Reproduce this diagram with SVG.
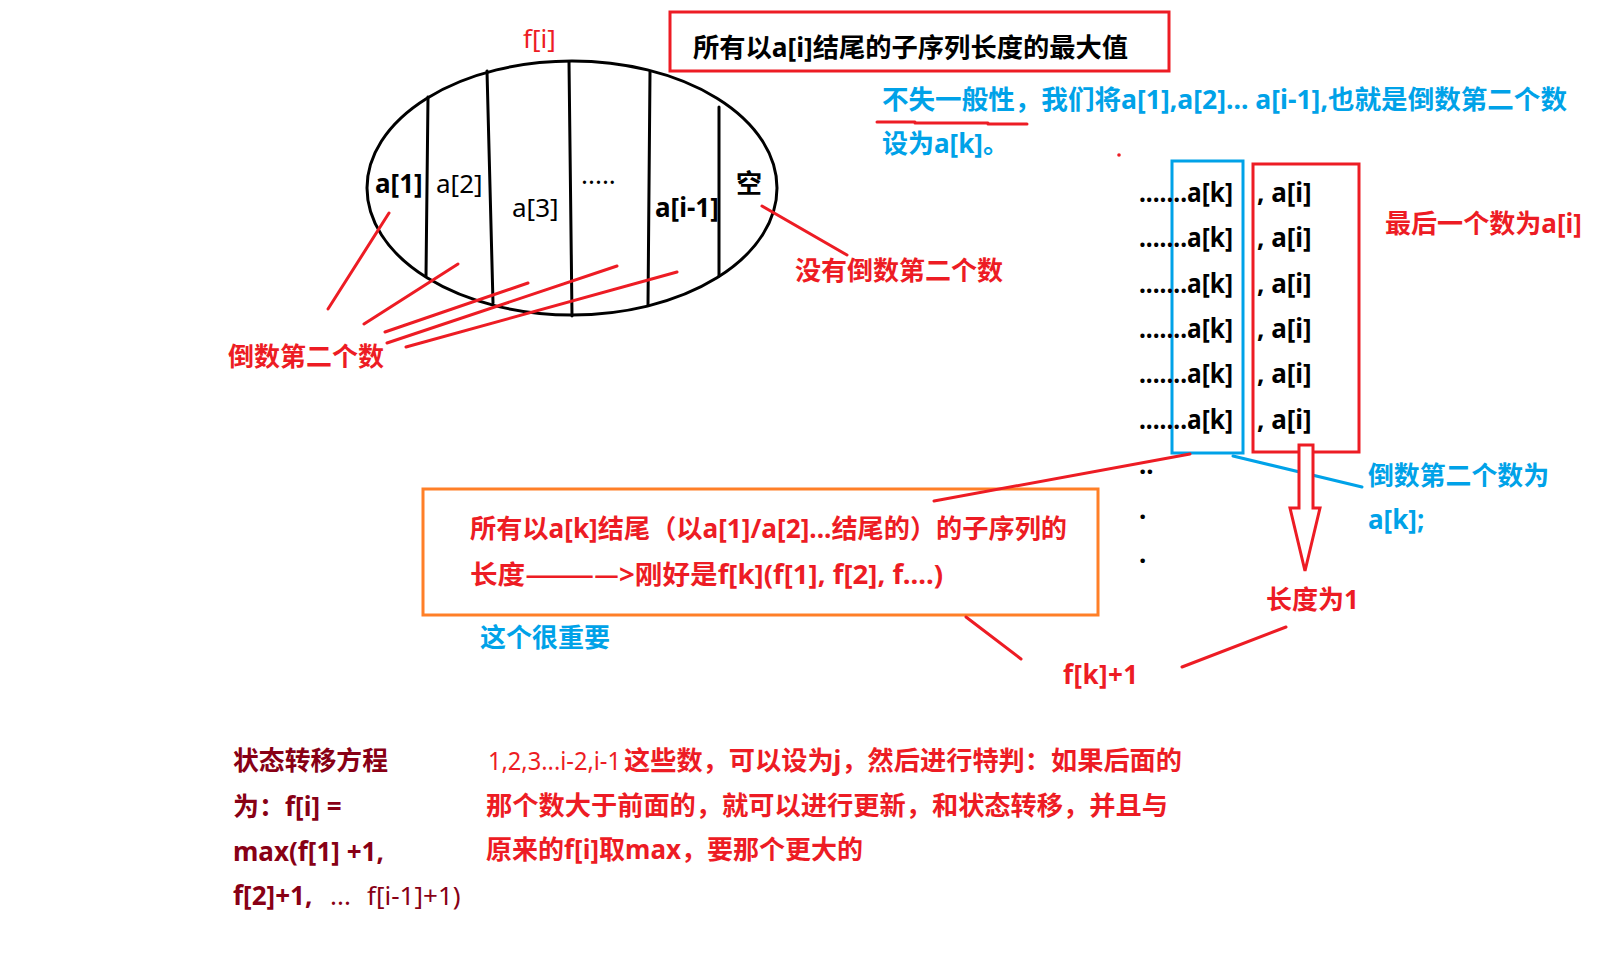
<svg xmlns="http://www.w3.org/2000/svg" width="1601" height="977" viewBox="0 0 1601 977">
<style>
text{font-family:"Noto Sans","Noto Sans CJK SC",sans-serif;font-size:26px;font-weight:bold}
.n{font-weight:normal}
.k{fill:#000}
.r{fill:#ED1C24}
.b{fill:#00A2E8}
.d{fill:#880015}
.cjk{font-family:"Noto Sans CJK SC",sans-serif}
.ln{fill:none;stroke-width:3;stroke-linecap:round}
.rs{stroke:#ED1C24}
.bs{stroke:#00A2E8}
.ks{stroke:#000}
</style>
<rect width="1601" height="977" fill="#fff"/>
<g id="set-fi">
<ellipse cx="572" cy="188" rx="205" ry="127" class="ln ks"/>
<path d="M428,97 L426,276 M487,71 L493,303 M569,62 L572,316 M650,72 L648,305 M719,107 L719,276" class="ln ks"/>
<text x="523" y="48" class="r n" font-size="23">f[i]</text>
<text x="375" y="193" class="k" font-size="24">a[1]</text>
<text x="436" y="193" class="k n" font-size="24">a[2]</text>
<text x="512" y="217" class="k n" font-size="24">a[3]</text>
<text x="581" y="184" class="k n" font-size="18">.....</text>
<text x="655" y="217" class="k" font-size="24">a[i-1]</text>
<text x="736" y="193" class="k" font-size="26">空</text>
</g>
<g id="title">
<rect x="670" y="12" width="499" height="59" fill="none" stroke="#ED1C24" stroke-width="3"/>
<text x="693" y="57" class="k" font-size="27" textLength="435" lengthAdjust="spacingAndGlyphs">所有以a[i]结尾的子序列长度的最大值</text>
</g>
<g id="note-general">
<text x="882" y="109" class="b" font-size="25" textLength="685" lengthAdjust="spacingAndGlyphs">不失一般性，我们将a[1],a[2]...  a[i-1],也就是倒数第二个数</text>
<text x="882" y="153" class="b" font-size="25">设为a[k]。</text>
<path d="M877,122 L915,122 M915,123 L988,123 M988,124 L1027,124" class="ln rs"/>
<circle cx="1119" cy="155" r="1.8" fill="#ED1C24"/>
</g>
<g id="seq-list">
<rect x="1172" y="161" width="71" height="292" fill="none" stroke="#00A2E8" stroke-width="3"/>
<rect x="1253" y="164" width="106" height="288" fill="none" stroke="#ED1C24" stroke-width="3"/>
<g class="k" font-size="24">
<text x="1139" y="202" textLength="94" lengthAdjust="spacingAndGlyphs">.......a[k]</text>
<text x="1139" y="247" textLength="94" lengthAdjust="spacingAndGlyphs">.......a[k]</text>
<text x="1139" y="293" textLength="94" lengthAdjust="spacingAndGlyphs">.......a[k]</text>
<text x="1139" y="338" textLength="94" lengthAdjust="spacingAndGlyphs">.......a[k]</text>
<text x="1139" y="383" textLength="94" lengthAdjust="spacingAndGlyphs">.......a[k]</text>
<text x="1139" y="429" textLength="94" lengthAdjust="spacingAndGlyphs">.......a[k]</text>
<text x="1257" y="202">, a[i]</text>
<text x="1257" y="247">, a[i]</text>
<text x="1257" y="293">, a[i]</text>
<text x="1257" y="338">, a[i]</text>
<text x="1257" y="383">, a[i]</text>
<text x="1257" y="429">, a[i]</text>
<text x="1139" y="474">..</text>
<text x="1139" y="519">.</text>
<text x="1139" y="563">.</text>
</g>
<text x="1385" y="233" class="r" font-size="25" textLength="197" lengthAdjust="spacingAndGlyphs">最后一个数为a[i]</text>
</g>
<g id="label-no-second">
<text x="795" y="280" class="r">没有倒数第二个数</text>
</g>
<g id="label-second">
<text x="228" y="366" class="r">倒数第二个数</text>
</g>
<g id="box-fk">
<rect x="423" y="489" width="675" height="126" fill="none" stroke="#FF7F27" stroke-width="3"/>
<text x="470" y="538" class="r" textLength="597" lengthAdjust="spacingAndGlyphs">所有以a[k]结尾（以a[1]/a[2]...结尾的）的子序列的</text>
<text x="470" y="584" class="r" textLength="473" lengthAdjust="spacingAndGlyphs">长度<tspan class="cjk">————</tspan>&gt;刚好是f[k](f[1], f[2], f....)</text>
<text x="480" y="647" class="b">这个很重要</text>
</g>
<g id="label-fk1">
<text x="1063" y="684" class="r" font-size="24" textLength="75" lengthAdjust="spacing">f[k]+1</text>
</g>
<g id="label-len1">
<text x="1266" y="609" class="r">长度为1</text>
</g>
<g id="label-ak">
<text x="1368" y="485" class="b" textLength="181" lengthAdjust="spacingAndGlyphs">倒数第二个数为</text>
<text x="1368" y="529" class="b" font-size="25">a[k];</text>
</g>
<g id="equation">
<text x="233" y="770" class="d" textLength="155" lengthAdjust="spacingAndGlyphs">状态转移方程</text>
<text x="233" y="816" class="d" font-size="25">为：f[i] =</text>
<text x="233" y="861" class="d" font-size="25">max(f[1] +1,</text>
<text x="233" y="905" class="d" font-size="25">f[2]+1,</text>
<text x="330" y="905" class="d n" font-size="18">...</text>
<text x="367" y="905" class="d n" font-size="23">f[i-1]+1)</text>
</g>
<g id="explain">
<text x="488" y="770" class="r n" font-size="24" textLength="133" lengthAdjust="spacingAndGlyphs">1,2,3...i-2,i-1</text>
<text x="624" y="770" class="r" textLength="558" lengthAdjust="spacingAndGlyphs">这些数，可以设为j，然后进行特判：如果后面的</text>
<text x="486" y="815" class="r" textLength="682" lengthAdjust="spacingAndGlyphs">那个数大于前面的，就可以进行更新，和状态转移，并且与</text>
<text x="486" y="859" class="r">原来的f[i]取max，要那个更大的</text>
</g>
<g id="connectors">
<path d="M328,309 L389,213 M364,324 L458,264 M385,332 L528,283 M387,343 L617,266 M406,347 L677,272" class="ln rs"/>
<path d="M762,206 L847,255" class="ln rs"/>
<path d="M1190,454 L934,501" class="ln rs"/>
<path d="M1233,456 L1362,487" class="ln bs"/>
<path d="M966,617 L1021,659" class="ln rs"/>
<path d="M1182,667 L1286,627" class="ln rs"/>
<polygon points="1299,445 1313,445 1313,508 1320,508 1305,571 1290,508 1299,508" fill="#fff" stroke="#ED1C24" stroke-width="3" stroke-linejoin="miter"/>
</g>
</svg>
